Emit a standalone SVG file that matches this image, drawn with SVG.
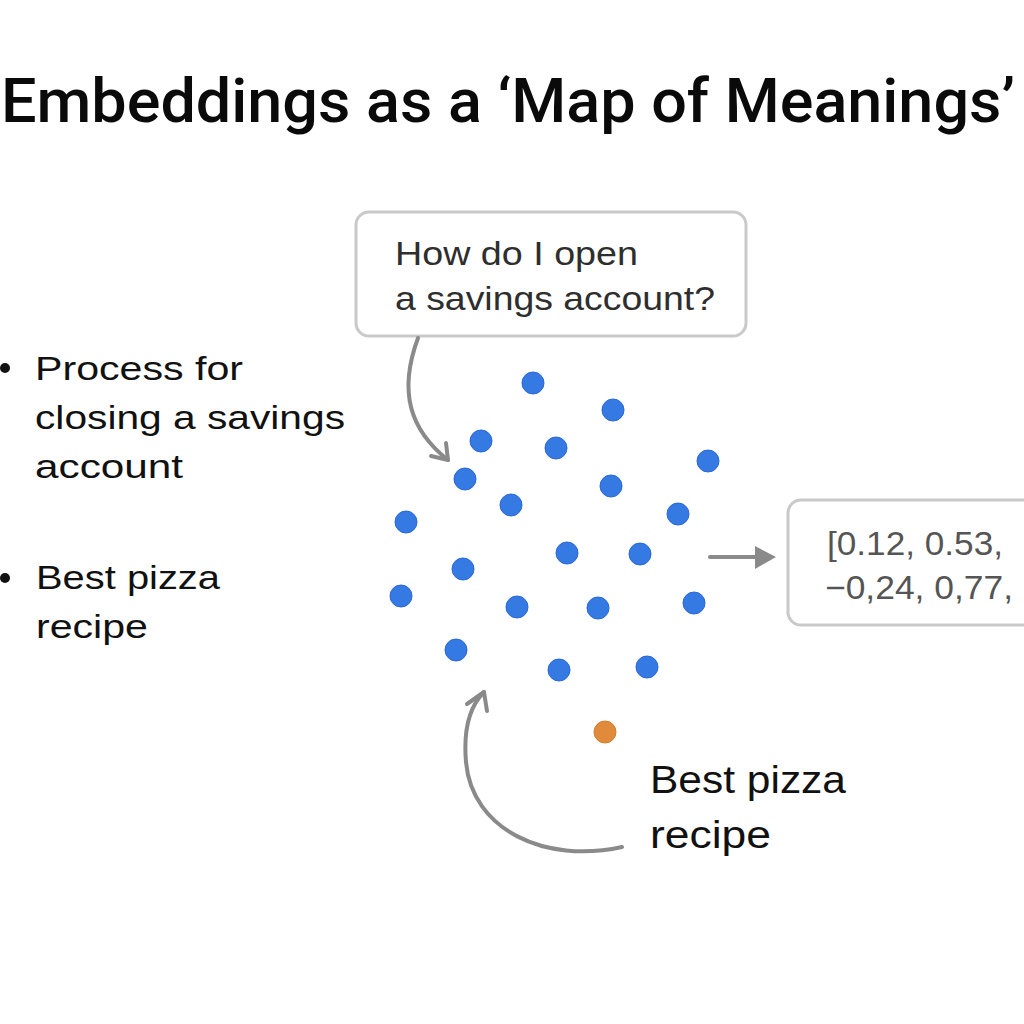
<svg xmlns="http://www.w3.org/2000/svg" width="1024" height="1024" viewBox="0 0 1024 1024">
<style>
.t{font-family:"Liberation Sans","DejaVu Sans",sans-serif;fill:#111;}
.title{font-family:Roboto,"Liberation Sans",sans-serif;font-weight:500;fill:#0a0a0a;}
.box{fill:#fff;stroke:#c9c9c9;stroke-width:3;}
.dot{fill:#3579e3;stroke:#2a67d8;stroke-width:1;}
.conn{fill:none;stroke:#8a8a8a;stroke-width:4;stroke-linecap:round;stroke-linejoin:round;}
</style>
<rect width="1024" height="1024" fill="#fff"/>
<g id="title"><text class="title" x="1" y="122" font-size="62" textLength="1014" lengthAdjust="spacingAndGlyphs">Embeddings as a ‘Map of Meanings’</text></g>
<g id="left-list">
<circle cx="5" cy="368" r="5" fill="#111"/>
<text class="t" font-size="34"><tspan x="35" y="380" textLength="208" lengthAdjust="spacingAndGlyphs">Process for</tspan><tspan x="35" y="429" textLength="310" lengthAdjust="spacingAndGlyphs">closing a savings</tspan><tspan x="35" y="478" textLength="148" lengthAdjust="spacingAndGlyphs">account</tspan></text>
<circle cx="5" cy="578" r="5" fill="#111"/>
<text class="t" font-size="34"><tspan x="36" y="589" textLength="184" lengthAdjust="spacingAndGlyphs">Best pizza</tspan><tspan x="36" y="638" textLength="112" lengthAdjust="spacingAndGlyphs">recipe</tspan></text>
</g>
<g id="query">
<rect class="box" x="356" y="212" width="390" height="124" rx="13"/>
<text class="t" font-size="34" style="fill:#2e2e2e"><tspan x="395" y="265" textLength="243" lengthAdjust="spacingAndGlyphs">How do I open</tspan><tspan x="395" y="310" textLength="320" lengthAdjust="spacingAndGlyphs">a savings account?</tspan></text>
</g>
<g id="points">
<circle class="dot" cx="533" cy="383" r="11"/>
<circle class="dot" cx="613" cy="410" r="11"/>
<circle class="dot" cx="481" cy="441" r="11"/>
<circle class="dot" cx="556" cy="448" r="11"/>
<circle class="dot" cx="708" cy="461" r="11"/>
<circle class="dot" cx="465" cy="479" r="11"/>
<circle class="dot" cx="611" cy="486" r="11"/>
<circle class="dot" cx="511" cy="505" r="11"/>
<circle class="dot" cx="678" cy="514" r="11"/>
<circle class="dot" cx="406" cy="522" r="11"/>
<circle class="dot" cx="567" cy="553" r="11"/>
<circle class="dot" cx="640" cy="554" r="11"/>
<circle class="dot" cx="463" cy="569" r="11"/>
<circle class="dot" cx="401" cy="596" r="11"/>
<circle class="dot" cx="517" cy="607" r="11"/>
<circle class="dot" cx="598" cy="608" r="11"/>
<circle class="dot" cx="694" cy="603" r="11"/>
<circle class="dot" cx="456" cy="650" r="11"/>
<circle class="dot" cx="559" cy="670" r="11"/>
<circle class="dot" cx="647" cy="667" r="11"/>
</g>
<g id="pizza-point"><circle cx="605" cy="732" r="11" fill="#e08a3c" stroke="#d77d2c" stroke-width="1"/></g>
<g id="vector">
<rect class="box" x="788" y="500" width="270" height="125" rx="13"/>
<text class="t" font-size="33" style="fill:#555"><tspan x="827" y="555" textLength="176" lengthAdjust="spacingAndGlyphs">[0.12, 0.53,</tspan><tspan x="825" y="599" textLength="188" lengthAdjust="spacingAndGlyphs">−0,24, 0,77,</tspan></text>
</g>
<g id="pizza-label">
<text class="t" font-size="38"><tspan x="650" y="793" textLength="196" lengthAdjust="spacingAndGlyphs">Best pizza</tspan><tspan x="650" y="848" textLength="121" lengthAdjust="spacingAndGlyphs">recipe</tspan></text>
</g>
<g id="connectors">
<path class="conn" d="M418,338 C398,392 410,430 448,460"/>
<path class="conn" d="M431,456 L448,460 L446,443"/>
<line class="conn" x1="710" y1="557" x2="756" y2="557"/>
<polygon points="755,546 776,557 755,569" fill="#8a8a8a"/>
<path class="conn" d="M622,847 C545,864 472,830 466,762 C463,727 470,706 484,692"/>
<path class="conn" d="M467,704 L484,692 L487,711"/>
</g>
</svg>
